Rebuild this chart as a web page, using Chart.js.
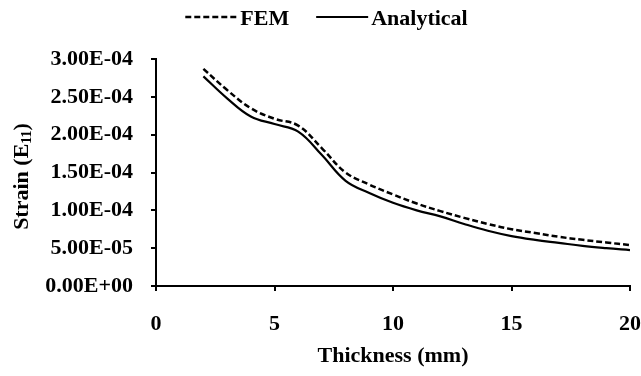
<!DOCTYPE html>
<html>
<head>
<meta charset="utf-8">
<script src="https://cdn.jsdelivr.net/npm/chart.js@4.4.1/dist/chart.umd.min.js"></script>
<style>
  html, body { margin: 0; padding: 0; background: #fff; }
  #wrap { width: 641px; height: 376px; }
</style>
</head>
<body>
<div id="wrap"><canvas id="c" width="641" height="376"></canvas></div>
<script>
// Plate thickness (mm)
const thickness = [2, 3, 4, 5, 6, 7, 8, 9, 10, 11, 12, 13, 14, 15, 16, 17, 18, 19, 20];
// Strain E11 from the finite element model
const femStrain = [2.87e-4, 2.59e-4, 2.35e-4, 2.21e-4, 2.12e-4, 1.82e-4, 1.50e-4, 1.34e-4, 1.21e-4, 1.09e-4,
                   0.99e-4, 0.90e-4, 0.82e-4, 0.75e-4, 0.70e-4, 0.65e-4, 0.61e-4, 0.575e-4, 0.54e-4];
// Strain E11 from the analytical solution
const analyticalStrain = [2.77e-4, 2.48e-4, 2.24e-4, 2.14e-4, 2.04e-4, 1.73e-4, 1.39e-4, 1.23e-4, 1.10e-4, 1.00e-4,
                          0.92e-4, 0.82e-4, 0.73e-4, 0.66e-4, 0.61e-4, 0.57e-4, 0.53e-4, 0.50e-4, 0.475e-4];
// Axis tick labels
const yTickLabels = ['0.00E+00', '5.00E-05', '1.00E-04', '1.50E-04', '2.00E-04', '2.50E-04', '3.00E-04'];
const xTickValues = [0, 5, 10, 15, 20];

const FONT = 'Liberation Serif';
const baseFont = { family: FONT, size: 22, weight: 'bold' };

const toPoints = (xs, ys) => xs.map((x, i) => ({ x: x, y: ys[i] }));

// Legend drawn above the plot: line sample followed by the series name
const topLegend = {
  id: 'topLegend',
  afterDraw(chart) {
    const ctx = chart.ctx;
    const sets = chart.data.datasets;
    const sample = 52, gapText = 3, gapItem = 27, y = 17;
    ctx.save();
    ctx.font = 'bold 22px "' + FONT + '"';
    const widths = sets.map(d => ctx.measureText(d.label).width);
    let total = 0;
    widths.forEach((w, i) => { total += sample + gapText + w + (i ? gapItem : 0); });
    let x = chart.width / 2 - total / 2 + 6;
    sets.forEach((d, i) => {
      if (i) x += gapItem;
      ctx.beginPath();
      ctx.setLineDash(d.borderDash || []);
      ctx.lineWidth = d.borderWidth;
      ctx.strokeStyle = d.borderColor;
      ctx.moveTo(x, y);
      ctx.lineTo(x + sample, y);
      ctx.stroke();
      ctx.setLineDash([]);
      x += sample + gapText;
      ctx.fillStyle = '#000';
      ctx.textBaseline = 'middle';
      ctx.textAlign = 'left';
      ctx.fillText(d.label, x, y + 2);
      x += widths[i];
    });
    ctx.restore();
  }
};

// Vertical axis title with subscript
const yAxisTitle = {
  id: 'yAxisTitle',
  afterDraw(chart) {
    const ctx = chart.ctx;
    const area = chart.chartArea;
    const parts = [
      { t: 'Strain (E', size: 22, dy: 0 },
      { t: '11', size: 14, dy: 5 },
      { t: ')', size: 22, dy: 0 }
    ];
    ctx.save();
    let total = 0;
    parts.forEach(p => {
      ctx.font = 'bold ' + p.size + 'px "' + FONT + '"';
      p.w = ctx.measureText(p.t).width;
      total += p.w;
    });
    const cy = (area.top + area.bottom) / 2 + 4;
    ctx.translate(22, cy);
    ctx.rotate(-Math.PI / 2);
    let x = -total / 2;
    ctx.fillStyle = '#000';
    ctx.textBaseline = 'middle';
    ctx.textAlign = 'left';
    parts.forEach(p => {
      ctx.font = 'bold ' + p.size + 'px "' + FONT + '"';
      ctx.fillText(p.t, x, p.dy);
      x += p.w;
    });
    ctx.restore();
  }
};

new Chart(document.getElementById('c'), {
  type: 'line',
  data: {
    datasets: [
      {
        label: 'FEM',
        data: toPoints(thickness, femStrain),
        borderColor: '#000',
        backgroundColor: 'transparent',
        borderWidth: 2.5,
        borderDash: [6, 3],
        pointRadius: 0,
        tension: 0.4,
        fill: false
      },
      {
        label: 'Analytical',
        data: toPoints(thickness, analyticalStrain),
        borderColor: '#000',
        backgroundColor: 'transparent',
        borderWidth: 2.2,
        pointRadius: 0,
        tension: 0.4,
        fill: false
      }
    ]
  },
  options: {
    responsive: false,
    animation: false,
    layout: { padding: { top: 59, right: 11, left: 0, bottom: 0 } },
    plugins: {
      legend: { display: false },
      tooltip: { enabled: false }
    },
    scales: {
      x: {
        type: 'linear',
        min: 0,
        max: 20,
        afterBuildTicks(scale) { scale.ticks = xTickValues.map(v => ({ value: v })); },
        ticks: { font: baseFont, color: '#000', padding: 20, maxRotation: 0, autoSkip: false },
        grid: { display: true, drawOnChartArea: false, drawTicks: true, tickLength: 5, color: '#000', lineWidth: 2 },
        border: { display: true, color: '#000', width: 2 },
        title: { display: true, text: 'Thickness (mm)', font: baseFont, color: '#000', padding: { top: 0, bottom: 6 } },
        afterFit(scale) { scale.height = 90; scale.paddingRight = 0; scale.paddingLeft = 0; }
      },
      y: {
        type: 'linear',
        min: 0,
        max: 3e-4,
        ticks: {
          stepSize: 5e-5,
          font: baseFont,
          color: '#000',
          padding: 18,
          callback: (v, i) => yTickLabels[i]
        },
        grid: { display: true, drawOnChartArea: false, drawTicks: true, tickLength: 5, color: '#000', lineWidth: 2 },
        border: { display: true, color: '#000', width: 2 },
        afterFit(scale) { scale.width = 156; scale.paddingTop = 0; scale.paddingBottom = 0; }
      }
    }
  },
  plugins: [topLegend, yAxisTitle]
});
</script>
</body>
</html>
